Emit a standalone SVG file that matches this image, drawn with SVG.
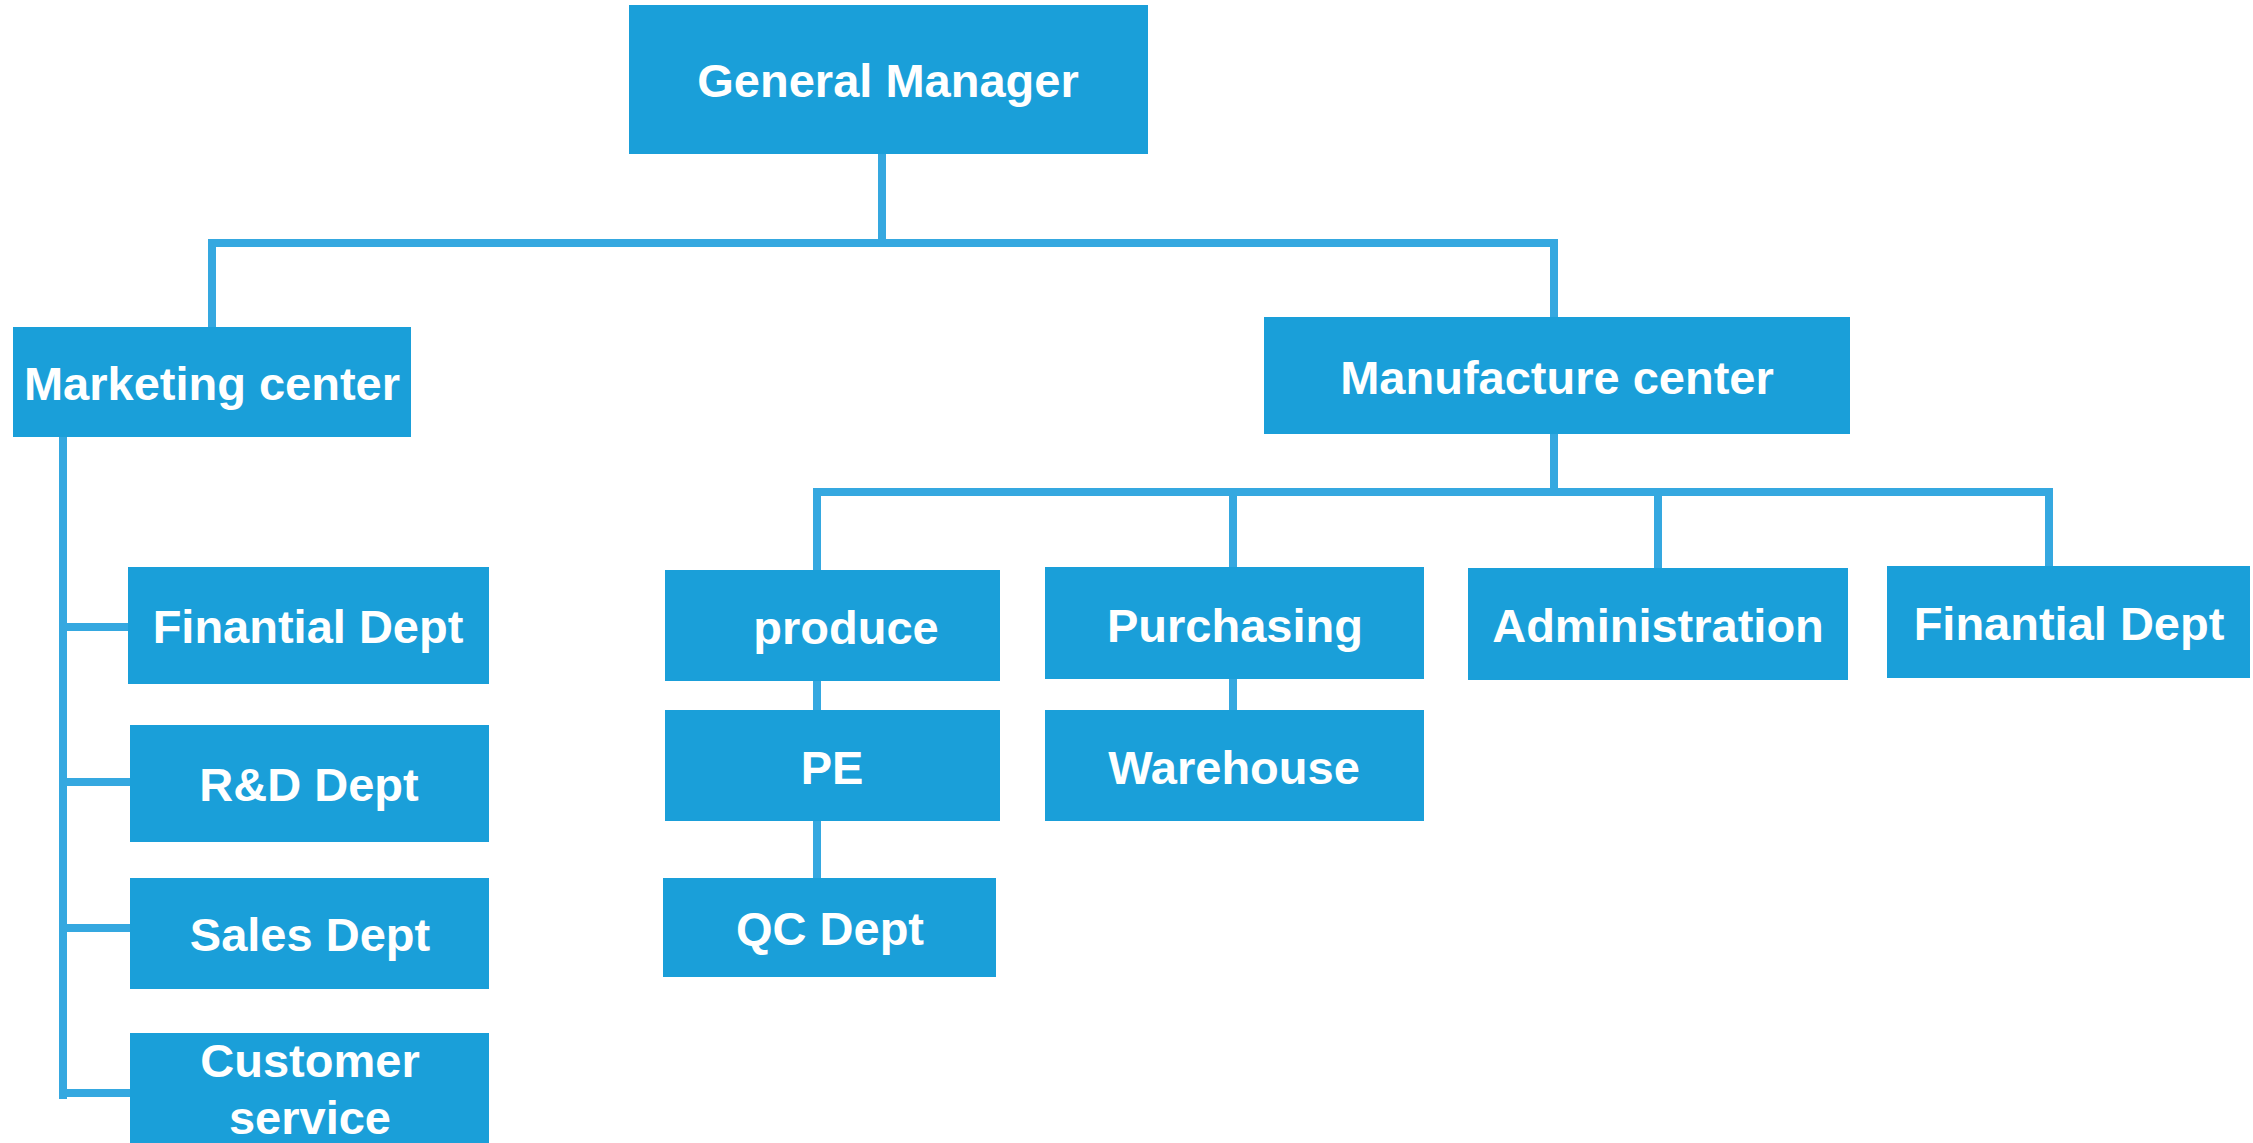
<svg xmlns="http://www.w3.org/2000/svg" width="2253" height="1143" viewBox="0 0 2253 1143">
<style>
.box{fill:#1a9fd9}
.lbl{font-family:"Liberation Sans",Arial,sans-serif;font-weight:bold;font-size:47px;fill:#ffffff;text-anchor:middle}
.con{fill:none;stroke:#35a8e0;stroke-width:8;stroke-linecap:square}
</style>
<rect width="2253" height="1143" fill="#ffffff"/>
<g id="connectors">
<path class="con" d="M882 154V243M212 243H1554M212 243V327M1554 243V317"/>
<path class="con" d="M63 437V1095M63 627H128M63 782H130M63 928H130M63 1093H130"/>
<path class="con" d="M1554 434V492M817 492H2049M817 492V570M1233 492V567M1658 492V568M2049 492V566"/>
<path class="con" d="M817 681V710M817 821V878M1233 679V710"/>
</g>
<g id="general-manager"><rect class="box" x="629" y="5" width="519" height="149"/><text class="lbl" x="888" y="97">General Manager</text></g>
<g id="marketing-center"><rect class="box" x="13" y="327" width="398" height="110"/><text class="lbl" x="212" y="400">Marketing center</text></g>
<g id="finantial-dept-1"><rect class="box" x="128" y="567" width="361" height="117"/><text class="lbl" x="308" y="643">Finantial Dept</text></g>
<g id="rd-dept"><rect class="box" x="130" y="725" width="359" height="117"/><text class="lbl" x="309" y="801">R&amp;D Dept</text></g>
<g id="sales-dept"><rect class="box" x="130" y="878" width="359" height="111"/><text class="lbl" x="310" y="951">Sales Dept</text></g>
<g id="customer-service"><rect class="box" x="130" y="1033" width="359" height="115"/><text class="lbl" x="310" y="1077">Customer</text><text class="lbl" x="310" y="1134">service</text></g>
<g id="manufacture-center"><rect class="box" x="1264" y="317" width="586" height="117"/><text class="lbl" x="1557" y="394">Manufacture center</text></g>
<g id="produce"><rect class="box" x="665" y="570" width="335" height="111"/><text class="lbl" x="846" y="644">produce</text></g>
<g id="purchasing"><rect class="box" x="1045" y="567" width="379" height="112"/><text class="lbl" x="1235" y="642">Purchasing</text></g>
<g id="administration"><rect class="box" x="1468" y="568" width="380" height="112"/><text class="lbl" x="1658" y="642">Administration</text></g>
<g id="finantial-dept-2"><rect class="box" x="1887" y="566" width="363" height="112"/><text class="lbl" x="2069" y="640">Finantial Dept</text></g>
<g id="pe"><rect class="box" x="665" y="710" width="335" height="111"/><text class="lbl" x="832" y="784">PE</text></g>
<g id="warehouse"><rect class="box" x="1045" y="710" width="379" height="111"/><text class="lbl" x="1234" y="784">Warehouse</text></g>
<g id="qc-dept"><rect class="box" x="663" y="878" width="333" height="99"/><text class="lbl" x="830" y="945">QC Dept</text></g>
</svg>
